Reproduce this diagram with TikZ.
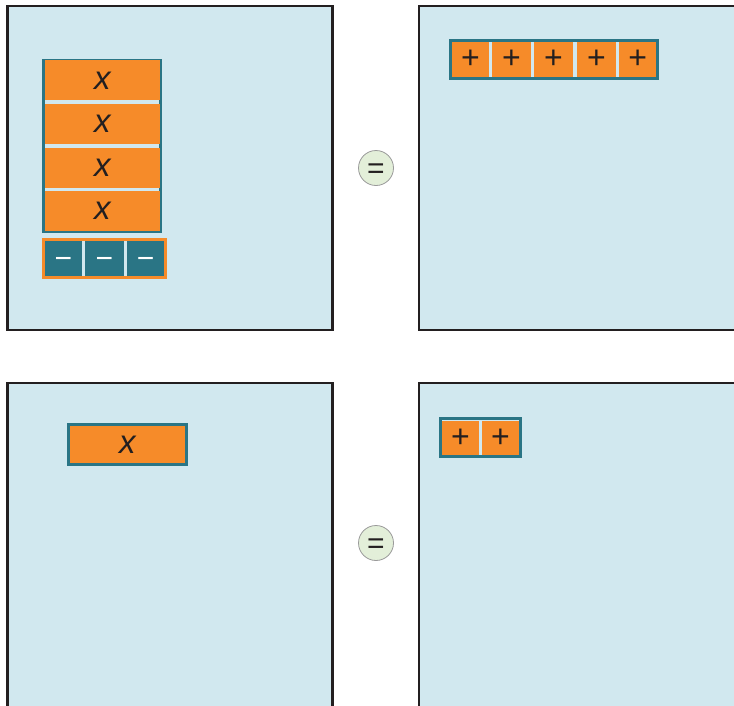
\documentclass[tikz,border=0pt]{standalone}
\usepackage{fontspec}
\setmainfont{Liberation Sans}
\definecolor{panelblue}{HTML}{D1E8EF}
\definecolor{tileorange}{HTML}{F68B29}
\definecolor{tileteal}{HTML}{2A7585}
\definecolor{inkdark}{HTML}{231F20}
\definecolor{eqfill}{HTML}{E3EFD9}
\definecolor{eqline}{HTML}{9A9A9A}
\tikzset{
  x=1pt,y=-1pt,
  panel/.style={draw=inkdark,fill=panelblue,line width=2.8pt},
  tealframe/.style={draw=tileteal,fill=panelblue,line width=2.8pt},
  orangeframe/.style={draw=tileorange,fill=panelblue,line width=3pt},
  xtile/.style={fill=tileorange,inner sep=0pt,text=inkdark,font=\fontsize{33}{33}\selectfont\itshape},
  ptile/.style={fill=tileorange,inner sep=0pt,text=inkdark,font=\fontsize{32}{32}\selectfont},
  mtile/.style={fill=tileteal,inner sep=0pt,text=white,text height=19pt,text depth=0pt,font=\fontsize{30}{30}\selectfont},
  eqsign/.style={circle,draw=eqline,fill=eqfill,line width=0.8pt,minimum size=35pt,inner sep=0pt,text=inkdark,text height=20pt,text depth=0pt,font=\fontsize{30}{30}\selectfont}
}
\begin{document}
\begin{tikzpicture}
\useasboundingbox (0,0) rectangle (734,705);
\clip (0,0) rectangle (734,705);
\fill[white] (0,0) rectangle (734,705);
% panels
\draw[panel] (7.5,6) rectangle (332.5,330);
\draw[panel] (419,6) rectangle (744,330);
\draw[panel] (7.5,383) rectangle (332.5,715);
\draw[panel] (419,383) rectangle (744,715);
% equals
\node[eqsign] (eq1) at (376,168) {=};
\node[eqsign] (eq2) at (376,543) {=};
% top-left stack of x tiles
\draw[tealframe] (43.4,60.4) rectangle (160.4,231.6);
\node[xtile,minimum width=114.5pt,minimum height=40pt] (x1) at (102.3,80.4) {x};
\node[xtile,minimum width=114.5pt,minimum height=40.5pt] (x2) at (102.3,124) {x};
\node[xtile,minimum width=114.5pt,minimum height=40pt] (x3) at (102.3,167.8) {x};
\node[xtile,minimum width=114.5pt,minimum height=39.5pt] (x4) at (102.3,211) {x};
% minus strip
\draw[orangeframe] (43.5,239.2) rectangle (165.2,277.5);
\node[mtile,minimum width=37pt,minimum height=35.2pt] (m1) at (63.3,258.6) {−};
\node[mtile,minimum width=39pt,minimum height=35.2pt] (m2) at (104.5,258.6) {−};
\node[mtile,minimum width=37.5pt,minimum height=35.2pt] (m3) at (145.6,258.6) {−};
% top-right plus strip
\draw[tealframe] (450.5,40.5) rectangle (657.2,78.5);
\node[ptile,minimum width=37pt,minimum height=35.5pt] (p1) at (470.5,59.5) {+};
\node[ptile,minimum width=39pt,minimum height=35.5pt] (p2) at (511.5,59.5) {+};
\node[ptile,minimum width=39pt,minimum height=35.5pt] (p3) at (553.5,59.5) {+};
\node[ptile,minimum width=39pt,minimum height=35.5pt] (p4) at (596.5,59.5) {+};
\node[ptile,minimum width=37.2pt,minimum height=35.5pt] (p5) at (637.6,59.5) {+};
% bottom-left x tile
\node[xtile,draw=tileteal,line width=2.6pt,minimum width=118pt,minimum height=40.2pt] (x5) at (127.4,444.3) {x};
% bottom-right plus strip
\draw[tealframe] (440.5,418.5) rectangle (520.2,456.5);
\node[ptile,minimum width=37pt,minimum height=34pt] (q1) at (460.5,437.8) {+};
\node[ptile,minimum width=37pt,minimum height=34pt] (q2) at (500.5,437.8) {+};
\end{tikzpicture}
\end{document}
